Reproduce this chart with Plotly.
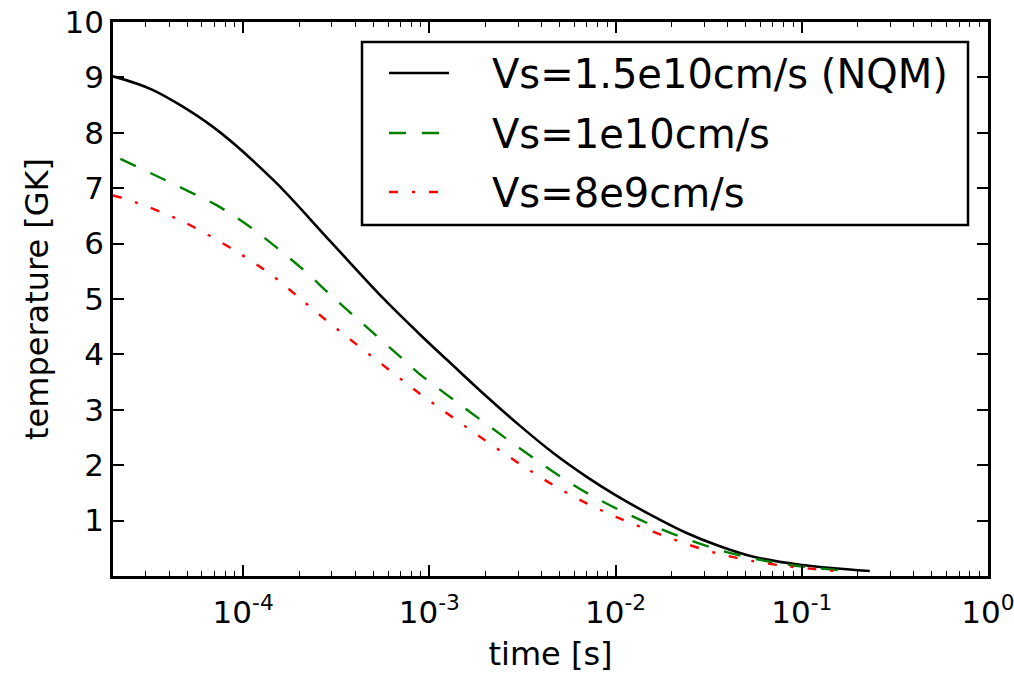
import numpy as np
import plotly.graph_objects as go

# ---- data ----
t_nqm = [2.0e-5, 3.24e-5, 6.8e-5, 1.46e-4, 2.94e-4, 5.66e-4, 8.9e-4, 1.35e-3, 2.03e-3,
         3.07e-3, 4.63e-3, 7.0e-3, 1.0e-2, 1.59e-2, 2.39e-2, 3.6e-2, 5.44e-2, 1.0e-1, 2.32e-1]
T_nqm = [9.02, 8.78, 8.12, 7.14, 6.04, 5.01, 4.36, 3.79, 3.24,
         2.71, 2.22, 1.79, 1.46, 1.08, 0.78, 0.54, 0.35, 0.20, 0.09]

t_1e10 = [2.19e-5, 5.2e-5, 7.23e-5, 1.09e-4, 2.02e-4, 2.93e-4, 3.92e-4, 7.57e-4, 8.9e-4,
          1.35e-3, 2.03e-3, 3.07e-3, 4.63e-3, 7.0e-3, 1.05e-2, 1.59e-2, 2.39e-2, 3.6e-2,
          5.44e-2, 8.2e-2, 1.74e-1]
T_1e10 = [7.53, 6.93, 6.69, 6.30, 5.58, 5.08, 4.70, 3.85, 3.64,
          3.18, 2.74, 2.30, 1.88, 1.50, 1.19, 0.91, 0.67, 0.47,
          0.32, 0.21, 0.09]

t_8e9 = [2.0e-5, 2.48e-5, 4.8e-5, 9.27e-5, 1.40e-4, 2.02e-4, 2.93e-4, 6.41e-4, 8.9e-4,
         1.35e-3, 2.03e-3, 3.07e-3, 4.63e-3, 7.0e-3, 1.05e-2, 1.59e-2, 2.39e-2, 3.6e-2,
         5.44e-2, 8.2e-2, 1.74e-1]
T_8e9 = [6.87, 6.78, 6.39, 5.85, 5.45, 5.01, 4.56, 3.66, 3.29,
         2.85, 2.43, 2.02, 1.64, 1.31, 1.04, 0.80, 0.58, 0.40,
         0.27, 0.18, 0.07]

series_names = ["Vs=1.5e10cm/s (NQM)", "Vs=1e10cm/s", "Vs=8e9cm/s"]
x_tickvals = [1e-4, 1e-3, 1e-2, 1e-1, 1.0]
x_ticktext = ["10<sup>-4</sup>", "10<sup>-3</sup>", "10<sup>-2</sup>", "10<sup>-1</sup>", "10<sup>0</sup>"]
y_tickvals = [1, 2, 3, 4, 5, 6, 7, 8, 9, 10]

colors = ["black", "#008000", "#FF0000"]
dashes = ["solid", "17px,16px", "9px,14px,3px,14px"]
widths = [2.6, 2.4, 2.4]

FONT = "DejaVu Sans"

fig = go.Figure()
for tx, ty, name, col, dash, lw in zip([t_nqm, t_1e10, t_8e9], [T_nqm, T_1e10, T_8e9],
                                       series_names, colors, dashes, widths):
    fig.add_trace(go.Scatter(x=tx, y=ty, mode="lines", name=name,
                             line=dict(color=col, width=lw, dash=dash,
                                       shape="spline", smoothing=0.9),
                             showlegend=False))

minor_vals = [k * 10.0 ** d for d in range(-5, 0) for k in range(2, 10)
              if 2e-5 <= k * 10.0 ** d <= 1]

axis_common = dict(showline=True, linewidth=2.5, linecolor="black", mirror="allticks",
                   ticks="inside", ticklen=11, tickwidth=1.5, tickcolor="black",
                   showgrid=False, zeroline=False, ticklabeloverflow="allow",
                   tickfont=dict(family=FONT, size=31, color="black"))

fig.update_xaxes(type="log", range=[np.log10(2e-5), 0.0002],
                 tickmode="array", tickvals=x_tickvals, ticktext=x_ticktext,
                 minor=dict(ticks="inside", ticklen=5, tickwidth=1.2, tickcolor="black",
                            tickmode="array", tickvals=minor_vals, showgrid=False),
                 title=dict(text="time [s]", font=dict(family=FONT, size=32, color="black"),
                            standoff=14),
                 ticklabelstandoff=7,
                 **axis_common)
fig.update_yaxes(range=[0, 10], tickmode="array", tickvals=y_tickvals,
                 title=dict(text="temperature [GK]", font=dict(family=FONT, size=32, color="black"),
                            standoff=7),
                 ticklabelstandoff=0,
                 **axis_common)

# ---- page geometry (body margin removed below, so page px == figure px) ----
W, H = 1014, 676
ml, mr, mt, mb = 113, 26, 22, 100
pw, ph = W - ml - mr, H - mt - mb


def px(xp):
    return (xp - ml) / pw


def py(yp):
    return (H - mb - yp) / ph


shapes = [dict(type="rect", xref="paper", yref="paper",
               x0=px(362), x1=px(968), y0=py(225), y1=py(42),
               line=dict(color="black", width=2.5), fillcolor="white", layer="above")]
annotations = []
rows_y = [73, 133, 192]
for name, col, dash, lw, ry in zip(series_names, colors, dashes, widths, rows_y):
    shapes.append(dict(type="line", xref="paper", yref="paper",
                       x0=px(389), x1=px(449), y0=py(ry), y1=py(ry),
                       line=dict(color=col, width=lw, dash=dash), layer="above"))
    annotations.append(dict(xref="paper", yref="paper", x=px(490), y=py(ry + 1),
                            xanchor="left", yanchor="middle", showarrow=False,
                            text=name, font=dict(family=FONT, size=40, color="black")))

fig.update_layout(width=W, height=H, margin=dict(l=ml, r=mr, t=mt, b=mb, autoexpand=False),
                  plot_bgcolor="white", paper_bgcolor="white",
                  font=dict(family=FONT, color="black"),
                  showlegend=False, shapes=shapes, annotations=annotations)

fig.write_html("out.html", config={"displayModeBar": False},
               post_script="document.body.style.margin='0px';document.body.style.overflow='hidden';")
